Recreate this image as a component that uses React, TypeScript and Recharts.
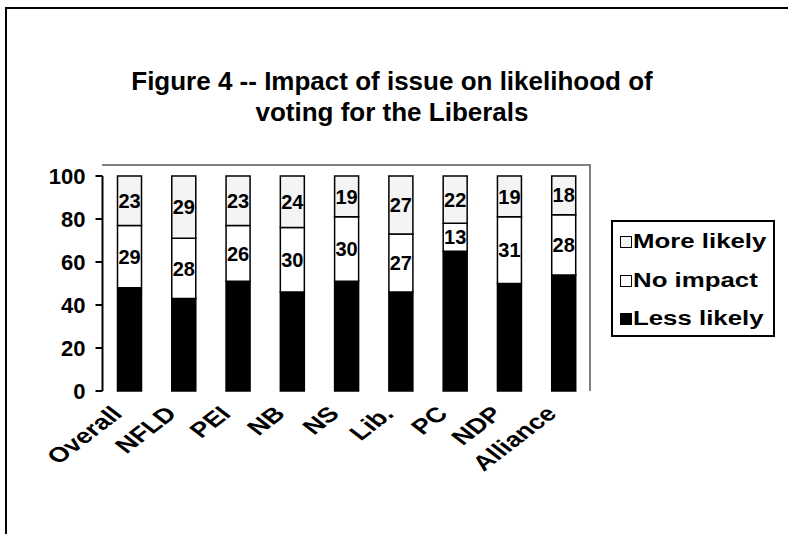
import React from 'react';
import { BarChart, Bar, XAxis, YAxis, Legend, LabelList } from 'recharts';

const categories = ['Overall', 'NFLD', 'PEI', 'NB', 'NS', 'Lib.', 'PC', 'NDP', 'Alliance'];
const lessLikely = [48, 43, 51, 46, 51, 46, 65, 50, 54];
const noImpact = [29, 28, 26, 30, 30, 27, 13, 31, 28];
const moreLikely = [23, 29, 23, 24, 19, 27, 22, 19, 18];
const yTicks = [0, 20, 40, 60, 80, 100];
const boundaryTicks = [0, 1, 2, 3, 4, 5, 6, 7, 8, 9];
const titleLines = ['Figure 4 -- Impact of issue on likelihood of', 'voting for the Liberals'];
const legendOrder = ['More likely', 'No impact', 'Less likely'];

const data = categories.map((name, i) => ({
  name,
  less: lessLikely[i],
  none: noImpact[i],
  more: moreLikely[i],
}));

const FONT = '"Liberation Sans", Arial, Helvetica, sans-serif';

function XTick(props: any) {
  const { x, y, payload } = props;
  return (
    <g transform={`translate(${x - 6},${y + 22})`}>
      <g transform="scale(1.3,1) rotate(-45)">
        <text textAnchor="end" fontFamily={FONT} fontWeight="bold" fontSize={21} fill="#000">
          {payload.value}
        </text>
      </g>
    </g>
  );
}

function LegendContent(props: any) {
  const items = [...(props.payload || [])].sort(
    (a: any, b: any) => legendOrder.indexOf(a.value) - legendOrder.indexOf(b.value)
  );
  return (
    <div
      style={{
        boxSizing: 'border-box',
        width: 164,
        height: 117,
        border: '2px solid #000',
        background: '#fff',
        paddingTop: 1,
        position: 'relative',
      }}
    >
      {items.map((it: any) => (
        <div key={it.value} style={{ height: 38.5, position: 'relative' }}>
          <div
            style={{
              position: 'absolute',
              left: 7,
              top: 13,
              width: 12,
              height: 12,
              boxSizing: 'border-box',
              border: '1.5px solid #000',
              background: it.color,
            }}
          />
          <div
            style={{
              position: 'absolute',
              left: 20,
              top: 6,
              fontFamily: FONT,
              fontWeight: 'bold',
              fontSize: 20,
              lineHeight: '24px',
              whiteSpace: 'nowrap',
              color: '#000',
              transform: 'scaleX(1.29)',
              transformOrigin: 'left center',
            }}
          >
            {it.value}
          </div>
        </div>
      ))}
    </div>
  );
}

export default function App() {
  return (
    <div style={{ position: 'absolute', left: 0, top: 0, width: 788, height: 534, background: '#fff', overflow: 'hidden' }}>
      <div
        style={{
          position: 'absolute',
          left: 5,
          top: 7,
          width: 783,
          height: 527,
          borderTop: '2px solid #000',
          borderLeft: '2px solid #000',
        }}
      />
      <div
        style={{
          position: 'absolute',
          left: 0,
          top: 66,
          width: 784,
          textAlign: 'center',
          fontFamily: FONT,
          fontWeight: 'bold',
          fontSize: 26,
          lineHeight: '31px',
          color: '#000',
        }}
      >
        {titleLines.map((l) => (
          <div key={l}>{l}</div>
        ))}
      </div>
      <div
        style={{
          position: 'absolute',
          left: 102,
          top: 164,
          width: 489,
          height: 227,
          boxSizing: 'border-box',
          borderTop: '2px solid #808080',
          borderRight: '2px solid #808080',
        }}
      />
      <div style={{ position: 'absolute', left: 0, top: 0 }}>
        <BarChart
          width={788}
          height={534}
          data={data}
          margin={{ top: 176, right: 197, bottom: 53, left: 42.5 }}
        >
          <XAxis
            xAxisId="edges"
            type="number"
            domain={[0, 9]}
            ticks={boundaryTicks}
            allowDataOverflow
            tick={false}
            tickSize={7}
            height={0}
            axisLine={{ stroke: '#000', strokeWidth: 2 }}
            tickLine={{ stroke: '#000', strokeWidth: 2 }}
          />
          <XAxis
            xAxisId="cat"
            dataKey="name"
            type="category"
            interval={0}
            height={90}
            axisLine={false}
            tickLine={false}
            tickSize={0}
            tick={<XTick />}
          />
          <YAxis
            domain={[0, 100]}
            ticks={yTicks}
            width={60}
            tickSize={7}
            tickMargin={10}
            axisLine={{ stroke: '#000', strokeWidth: 2 }}
            tickLine={{ stroke: '#000', strokeWidth: 2 }}
            tick={{ fontFamily: FONT, fontWeight: 'bold', fontSize: 22, fill: '#000' }}
          />
          <Legend
            layout="horizontal"
            align="center"
            verticalAlign="middle"
            wrapperStyle={{ left: 611, top: 220, width: 164, height: 117 }}
            content={<LegendContent />}
          />
          <Bar dataKey="less" name="Less likely" stackId="a" xAxisId="cat" barSize={24} fill="#000" stroke="#000" strokeWidth={1.5} isAnimationActive={false}>
            <LabelList dataKey="less" position="center" fill="#000" fontFamily={FONT} fontWeight="bold" fontSize={20} />
          </Bar>
          <Bar dataKey="none" name="No impact" stackId="a" xAxisId="cat" barSize={24} fill="#ffffff" stroke="#000" strokeWidth={1.5} isAnimationActive={false}>
            <LabelList dataKey="none" position="center" fill="#000" fontFamily={FONT} fontWeight="bold" fontSize={20} />
          </Bar>
          <Bar dataKey="more" name="More likely" stackId="a" xAxisId="cat" barSize={24} fill="#f4f4f4" stroke="#000" strokeWidth={1.5} isAnimationActive={false}>
            <LabelList dataKey="more" position="center" fill="#000" fontFamily={FONT} fontWeight="bold" fontSize={20} />
          </Bar>
        </BarChart>
      </div>
    </div>
  );
}
